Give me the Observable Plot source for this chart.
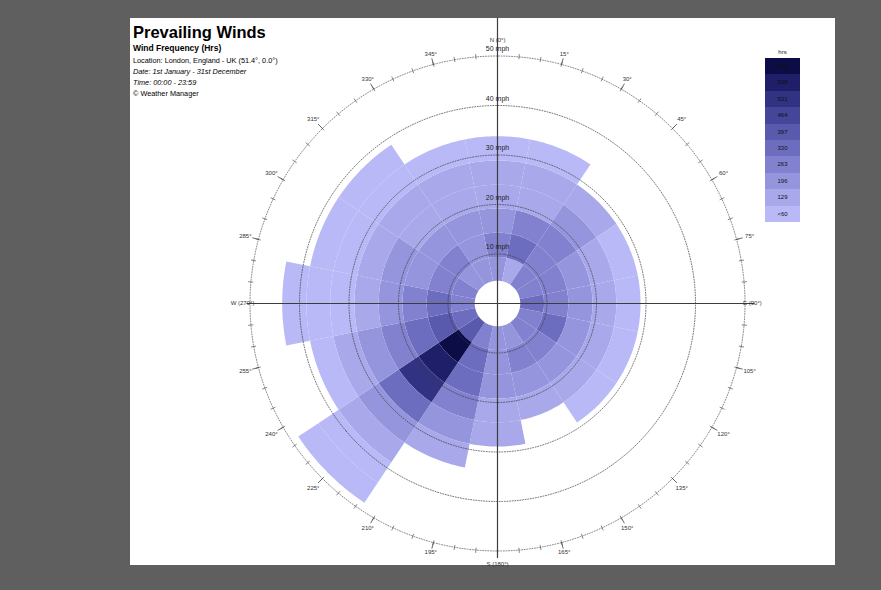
<!DOCTYPE html>
<html><head><meta charset="utf-8">
<script src="https://cdn.jsdelivr.net/npm/d3@7"></script>
<script src="https://cdn.jsdelivr.net/npm/@observablehq/plot@0.6"></script>
<style>
html,body{margin:0;padding:0;}
body{background:#5f5f5f;width:881px;height:590px;overflow:hidden;position:relative;font-family:"Liberation Sans",Arial,sans-serif;}
#panel{position:absolute;left:130px;top:18px;width:705px;height:547px;background:#fff;}
#chart{position:absolute;left:200px;top:6px;}
.t{position:absolute;left:133px;white-space:nowrap;color:#000;}
#legend{position:absolute;left:765px;top:46px;width:35px;}
#legend .h{font-size:6px;text-align:center;color:#222;height:12px;line-height:12px;}
#legend .b{height:16.4px;font-size:6px;line-height:16.4px;text-align:center;color:#111;}
</style></head>
<body>
<div id="panel"></div>
<div id="chart"></div>
<div class="t" style="top:23px;font-size:16.5px;font-weight:bold;">Prevailing Winds</div>
<div class="t" style="top:43px;font-size:8.5px;font-weight:bold;">Wind Frequency (Hrs)</div>
<div class="t" style="top:56px;font-size:7.3px;">Location: London, England - UK (51.4°, 0.0°)</div>
<div class="t" style="top:67px;font-size:7.3px;font-style:italic;">Date: 1st January - 31st December</div>
<div class="t" style="top:78px;font-size:7.3px;font-style:italic;">Time: 00:00 - 23:59</div>
<div class="t" style="top:89px;font-size:7.3px;">© Weather Manager</div>
<div id="legend"></div>
<script>
// ---------------- data ----------------
const sectors = ["N","NNE","NE","ENE","E","ESE","SE","SSE","S","SSW","SW","WSW","W","WNW","NW","NNW"];
const directions = [0,22.5,45,67.5,90,112.5,135,157.5,180,202.5,225,247.5,270,292.5,315,337.5];
const sectorWidth = 22.5;
const speedEdges = [4.6,9.4,14.3,19.2,24.0,28.9,33.8,38.6,43.5,48.4];   // mph, band edges as read off the rings
// hours of wind per sector (N ... NNW) for each speed band
const hoursBand1 = [160,100,230,230,300,230,230,160,160,230,370,300,230,230,160,160];
const hoursBand2 = [230,300,230,230,230,300,230,230,160,300,640,370,300,230,230,160];
const hoursBand3 = [160,230,230,160,160,160,160,160,160,300,570,300,230,160,160,160];
const hoursBand4 = [100,100,160,100,100,100,100,100,100,230,500,230,160,160,100,100];
const hoursBand5 = [100,100,100, 40, 40, 40, 40,  0,100,160,300,160,100,100,100,100];
const hoursBand6 = [ 40, 40,  0,  0,  0,  0,  0,  0,  0,100,160,100, 40, 40, 40, 40];
const hoursBand7 = [  0,  0,  0,  0,  0,  0,  0,  0,  0,  0,100, 40, 40, 40, 40,  0];
const hoursBand8 = [  0,  0,  0,  0,  0,  0,  0,  0,  0,  0, 40,  0, 40,  0,  0,  0];
const hoursBand9 = [  0,  0,  0,  0,  0,  0,  0,  0,  0,  0, 40,  0,  0,  0,  0,  0];
const bands = [hoursBand1,hoursBand2,hoursBand3,hoursBand4,hoursBand5,hoursBand6,hoursBand7,hoursBand8,hoursBand9];

const thresholds = [60,129,196,263,330,397,464,531,598];
const legendLabels = ["665","598","531","464","397","330","263","196","129","<60"];
const colors = ["#b9b9f7","#a8a8eb","#9595de","#8181cf","#6d6dbf","#5959ad","#454599","#323283","#1f1f69","#0c0c47"];

const ringSpeeds = [10,20,30,40,50];
const ringLabels = ["10 mph","20 mph","30 mph","40 mph","50 mph"];
const degreeBearings = [15,30,45,60,75,105,120,135,150,165,195,210,225,240,255,285,300,315,330,345];
const degreeLabels = ["15°","30°","45°","60°","75°","105°","120°","135°","150°","165°","195°","210°","225°","240°","255°","285°","300°","315°","330°","345°"];
const cardinalBearings = [0,90,180,270];
const cardinalLabels = ["N (0°)","E (90°)","S (180°)","W (270°)"];

// ---------------- geometry helpers (bearing/speed -> lon/lat on a polar azimuthal projection) ----------------
const lon = b => 180 - b;
const lat = v => 90 - v;
const rad = b => b * Math.PI / 180;

const cells = [];
bands.forEach((arr, i) => arr.forEach((h, j) => {
  if (h > 0) cells.push({sector: sectors[j], dir: directions[j], lo: speedEdges[i], hi: speedEdges[i + 1], hours: h});
}));
function cellFeature(c) {
  const half = sectorWidth / 2, n = 24, ring = [];
  for (let k = 0; k <= n; k++) ring.push([lon(c.dir - half + 2 * half * k / n), lat(c.lo)]);
  for (let k = n; k >= 0; k--) ring.push([lon(c.dir - half + 2 * half * k / n), lat(c.hi)]);
  ring.push(ring[0].slice());
  const f = {type: "Feature", properties: c, geometry: {type: "Polygon", coordinates: [ring]}};
  if (d3.geoArea(f) > 2 * Math.PI) ring.reverse();
  return f;
}
const cellFeatures = cells.map(cellFeature);
const circle = v => d3.geoCircle().center([0, 90]).radius(v).precision(0.5)();
const innerRings = ringSpeeds.slice(0, 4).map(circle);
const outerRing = circle(ringSpeeds[4]);
const radial = (b, v0, v1) => ({type: "LineString", coordinates: [[lon(b), lat(v0)], [lon(b), lat(v1)]]});
const minorTicks = d3.range(0, 360, 5).map(b => radial(b, 49.6, 50.5));
const majorTicks = degreeBearings.map(b => radial(b, 50, 51.2));
const axisLines = [radial(0, 0, 57.6), radial(180, 0, 51.3), radial(90, 0, 51.8), radial(270, 0, 50.6)];

const degreeText = degreeBearings.map((b, i) => ({b, label: degreeLabels[i]}));
const ringText = ringSpeeds.map((v, i) => ({v, label: ringLabels[i]}));

const R = 60;
const plot = Plot.plot({
  width: 594, height: 594, margin: 0,
  style: {background: "transparent", overflow: "visible", fontFamily: "Liberation Sans, Arial, sans-serif"},
  projection: {type: "azimuthal-equidistant", rotate: [0, -90], domain: d3.geoCircle().center([0, 90]).radius(R)()},
  color: {type: "threshold", domain: thresholds, range: colors},
  marks: [
    Plot.geo(cellFeatures, {fill: d => d.properties.hours, stroke: null}),
    Plot.geo(innerRings, {stroke: "#3a3a3a", strokeWidth: 0.7, strokeDasharray: "1,1.6", fill: "none"}),
    Plot.geo([outerRing], {stroke: "#555", strokeWidth: 0.7, strokeDasharray: "1,1.6", fill: "none"}),
    Plot.geo(minorTicks, {stroke: "#555", strokeWidth: 0.7}),
    Plot.geo(majorTicks, {stroke: "#444", strokeWidth: 0.8}),
    Plot.geo(axisLines, {stroke: "#3c3c3c", strokeWidth: 1.2}),
    Plot.text(degreeText, {
      x: d => lon(d.b),
      y: d => lat(51.0 + 0.7 * Math.abs(Math.cos(rad(d.b))) + 1.6 * Math.abs(Math.sin(rad(d.b)))),
      text: "label", fontSize: 6, fill: "#333"
    }),
    Plot.text(ringText, {x: lon(0), y: d => lat(d.v + 1.4), text: "label", fontSize: 7, fill: "#222"}),
    Plot.text(cardinalBearings.map((b, i) => ({b, label: cardinalLabels[i]})), {
      x: d => lon(d.b), y: d => lat(d.b === 0 ? 53.3 : d.b === 180 ? 52.6 : 51.5),
      text: "label", fontSize: 6, fill: "#333",
      textAnchor: d => d.b === 90 ? "start" : d.b === 270 ? "end" : "middle"
    })
  ]
});
document.getElementById("chart").appendChild(plot);

// legend
const lg = document.getElementById("legend");
const hdr = document.createElement("div"); hdr.className = "h"; hdr.textContent = "hrs"; lg.appendChild(hdr);
legendLabels.forEach((t, i) => {
  const d = document.createElement("div"); d.className = "b";
  d.style.background = colors[colors.length - 1 - i]; d.textContent = t; lg.appendChild(d);
});
</script>
</body></html>
